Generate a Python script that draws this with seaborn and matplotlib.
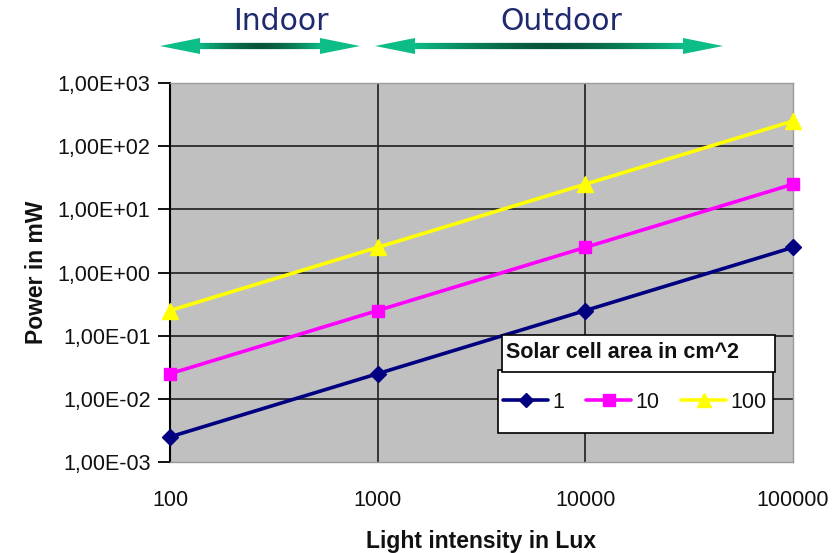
import numpy as np
import pandas as pd
import matplotlib
matplotlib.use("Agg")
import matplotlib.pyplot as plt
import seaborn as sns
from matplotlib.collections import LineCollection
from matplotlib.patches import Polygon, Rectangle
from matplotlib.ticker import FixedLocator, FixedFormatter, NullLocator
from matplotlib.lines import Line2D

# ---- data ----
lux = [100, 1000, 10000, 100000]
area_1 = [0.0025, 0.025, 0.25, 2.5]
area_10 = [0.025, 0.25, 2.5, 25]
area_100 = [0.25, 2.5, 25, 250]
series_names = ["1", "10", "100"]
y_ticks = [1e-3, 1e-2, 1e-1, 1e0, 1e1, 1e2, 1e3]
y_tick_labels = ["1,00E-03", "1,00E-02", "1,00E-01", "1,00E+00",
                 "1,00E+01", "1,00E+02", "1,00E+03"]
x_ticks = [100, 1000, 10000, 100000]
x_tick_labels = ["100", "1000", "10000", "100000"]

df = pd.DataFrame({
    "lux": lux * 3,
    "power": area_1 + area_10 + area_100,
    "area": [series_names[0]] * 4 + [series_names[1]] * 4 + [series_names[2]] * 4,
})

palette = {"1": "#000080", "10": "#FF00FF", "100": "#FFFF00"}
markers = {"1": "D", "10": "s", "100": "^"}
msize = {"1": 8, "10": 9, "100": 11}

sns.set_theme(style="white")
plt.rcParams["font.family"] = ["Liberation Sans", "DejaVu Sans"]

W, H = 839, 553
fig = plt.figure(figsize=(W / 100, H / 100), dpi=100)
ax = fig.add_axes([170 / W, 1 - 462 / H, (793 - 170) / W, (462 - 83) / H])
ax.set_facecolor("#C0C0C0")

ax.set_xscale("log")
ax.set_yscale("log")
ax.set_xlim(100, 100000)
ax.set_ylim(1e-3, 1e3)

# grid
for xv in x_ticks[1:-1]:
    ax.axvline(xv, color="#2a2a2a", lw=1.3, zorder=1)
for yv in y_ticks[1:-1]:
    ax.axhline(yv, color="#2a2a2a", lw=1.3, zorder=1)

sns.lineplot(data=df, x="lux", y="power", hue="area", palette=palette,
             lw=2.6, ax=ax, legend=False, zorder=3)
for name in series_names:
    sub = df[df["area"] == name]
    ax.plot(sub["lux"], sub["power"], linestyle="none", marker=markers[name],
            markersize=msize[name], color=palette[name], mec=palette[name],
            zorder=4, clip_on=False)

for side in ["top", "right", "bottom"]:
    ax.spines[side].set_color("#9a9a9a")
    ax.spines[side].set_linewidth(1.0)
ax.spines["left"].set_color("black")
ax.spines["left"].set_linewidth(1.5)

ax.yaxis.set_major_locator(FixedLocator(y_ticks))
ax.yaxis.set_major_formatter(FixedFormatter(y_tick_labels))
ax.yaxis.set_minor_locator(NullLocator())
ax.xaxis.set_major_locator(FixedLocator(x_ticks))
ax.xaxis.set_major_formatter(FixedFormatter(x_tick_labels))
ax.xaxis.set_minor_locator(NullLocator())
ax.tick_params(axis="y", direction="out", length=9, width=1.3, color="black",
               labelsize=15.5, pad=5, left=True, labelcolor="#111111")
ax.tick_params(axis="x", length=0, labelsize=15.5, pad=20, labelcolor="#111111")

ax.set_xlabel("Light intensity in Lux", fontsize=16.5, fontweight="bold",
              labelpad=14, color="#111111")
ax.set_ylabel("Power in mW", fontsize=16.5, fontweight="bold",
              labelpad=7, color="#111111")

# legend boxes
fig.patches.append(Rectangle((498 / W, 1 - 433 / H), (773 - 498) / W, (433 - 370) / H,
                             transform=fig.transFigure, facecolor="white",
                             edgecolor="black", lw=1.2, zorder=5))
fig.patches.append(Rectangle((502 / W, 1 - 372 / H), (775 - 502) / W, (372 - 335) / H,
                             transform=fig.transFigure, facecolor="white",
                             edgecolor="black", lw=1.2, zorder=6))
fig.text(506 / W, 1 - 353 / H, "Solar cell area in cm^2", fontsize=15.5,
         fontweight="bold", va="center", ha="left", color="#111111", zorder=7)
handles = [Line2D([], [], color=palette[n], lw=2.6, marker=markers[n],
                  markersize=msize[n] - 1, mec=palette[n]) for n in series_names]
leg = fig.legend(handles, series_names, ncol=3, frameon=False,
                 loc="center", bbox_to_anchor=(635 / W, 1 - 402 / H),
                 fontsize=15.5, handlelength=2.1, handletextpad=0.2,
                 columnspacing=1.0, borderpad=0)
leg.set_zorder(8)
for t in leg.get_texts():
    t.set_color("#111111")


# top arrows
def grad_arrow(x0, x1, yc):
    tr = fig.transFigure
    head = 40
    hw = 8
    light = np.array([0.05, 0.74, 0.53])
    dark = np.array([0.02, 0.33, 0.22])
    n = 80
    xs = np.linspace(x0 + head - 2, x1 - head + 2, n + 1)
    segs = [[(xs[i] / W, 1 - yc / H), (xs[i + 1] / W, 1 - yc / H)] for i in range(n)]
    t = np.abs(np.linspace(-1, 1, n))
    cols = [tuple(dark + (light - dark) * v ** 1.5) for v in t]
    lc = LineCollection(segs, colors=cols, linewidths=4.5, transform=tr,
                        capstyle="butt")
    fig.add_artist(lc)
    for tip, base in [(x0, x0 + head), (x1, x1 - head)]:
        poly = Polygon([(tip / W, 1 - yc / H),
                        (base / W, 1 - (yc - hw) / H),
                        (base / W, 1 - (yc + hw) / H)],
                       closed=True, transform=tr, facecolor=tuple(light),
                       edgecolor="none")
        fig.add_artist(poly)


grad_arrow(160, 360, 46)
grad_arrow(375, 723, 46)
fig.text(281 / W, 1 - 22 / H, "Indoor", fontsize=21.5, color="#1F2A6E",
         ha="center", va="center", family="DejaVu Sans")
fig.text(561 / W, 1 - 22 / H, "Outdoor", fontsize=21.5, color="#1F2A6E",
         ha="center", va="center", family="DejaVu Sans")

fig.savefig("out.png", dpi=100)
